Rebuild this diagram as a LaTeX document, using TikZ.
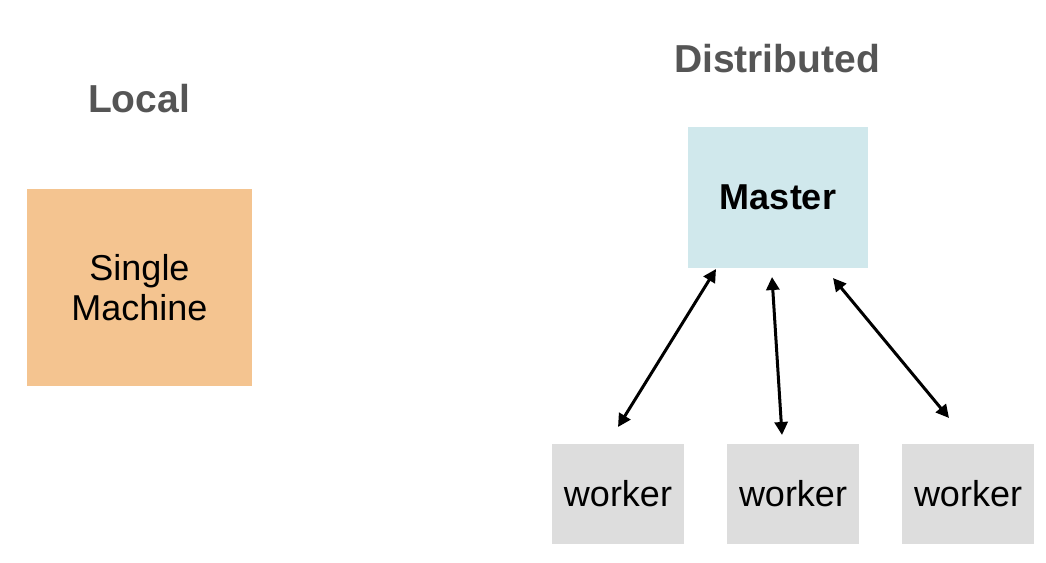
\documentclass[tikz,border=0pt]{standalone}
\usepackage{fontspec}
\setmainfont{Liberation Sans}
\usetikzlibrary{arrows.meta}
\definecolor{orangebox}{HTML}{F4C490}
\definecolor{masterbox}{HTML}{D0E8EC}
\definecolor{workerbox}{HTML}{DDDDDD}
\definecolor{titlegrey}{HTML}{555555}
\tikzset{
  boxbase/.style={inner sep=0pt, align=center, font=\fontsize{36}{40}\selectfont},
  localbox/.style={boxbase, fill=orangebox, minimum width=225pt, minimum height=197pt},
  masterstyle/.style={boxbase, fill=masterbox, minimum width=180pt, minimum height=141pt, font=\fontsize{36}{40}\selectfont\bfseries},
  workerstyle/.style={boxbase, fill=workerbox, minimum width=132pt, minimum height=100pt},
  titlestyle/.style={inner sep=0pt, text=titlegrey, font=\fontsize{39}{44}\selectfont\bfseries},
  link/.style={line width=3pt, {Triangle[length=13pt,width=13pt]}-{Triangle[length=13pt,width=13pt]}}
}
\begin{document}
\begin{tikzpicture}[x=1pt,y=-1pt]
\useasboundingbox (0,0) rectangle (1046,562);
\node[titlestyle] (localt) at (139,99) {Local};
\node[titlestyle] (distt) at (777,59) {Distributed};
\node[localbox] (single) at (139.5,287.5) {Single\\Machine};
\node[masterstyle] (master) at (778,197.5) {Master};
\node[workerstyle] (w1) at (618,494) {worker};
\node[workerstyle] (w2) at (793,494) {worker};
\node[workerstyle] (w3) at (968,494) {worker};
\coordinate (m1) at (716,269);
\coordinate (m2) at (772,277);
\coordinate (m3) at (833,278);
\coordinate (e1) at (618,427);
\coordinate (e2) at (782,435);
\coordinate (e3) at (949,418);
\draw[link] (e1) -- (m1);
\draw[link] (e2) -- (m2);
\draw[link] (e3) -- (m3);
\end{tikzpicture}
\end{document}
